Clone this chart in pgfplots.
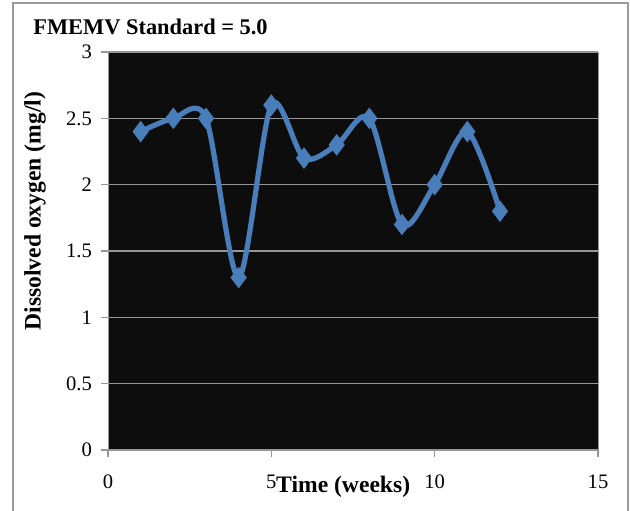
\documentclass[border=0pt]{standalone}
\usepackage{fontspec}
\setmainfont{Liberation Serif}
\usepackage{pgfplots}
\pgfplotsset{compat=1.18}
\definecolor{ser}{HTML}{4A7EBB}
\definecolor{bgk}{HTML}{0D0D0D}
\definecolor{grd}{HTML}{969696}
\definecolor{frm}{HTML}{9A9A9A}
\begin{document}
\begin{tikzpicture}[x=1pt,y=1pt]
\path[use as bounding box] (0,0) rectangle (315,255);
\draw[frm, line width=1pt] (6.5,-10) rectangle (314,253.5);
\node[anchor=base west, inner sep=0pt, font=\bfseries\fontsize{11.2}{13}\selectfont] at (16.5,237.5) {FMEMV Standard = 5.0};
\begin{axis}[
  at={(54pt,30pt)}, anchor=south west,
  scale only axis, width=245pt, height=199pt,
  xmin=0, xmax=15, ymin=0, ymax=3,
  xtick={0,5,10,15}, ytick={0,0.5,1,1.5,2,2.5,3},
  axis background/.style={fill=bgk},
  axis line style={grd},
  ymajorgrids, grid style={grd, line width=0.8pt},
  tick align=outside, major tick length=3.5pt,
  tick style={grd, line width=0.8pt},
  xtick pos=bottom, ytick pos=left,
  /pgf/number format/assume math mode=true,
  ticklabel style={font=\fontsize{10.3}{12}\selectfont},
  xticklabel style={yshift=-5.5pt},
  yticklabel style={xshift=-1pt},
  xlabel={Time (weeks)}, ylabel={Dissolved oxygen (mg/l)},
  label style={font=\bfseries\fontsize{11.8}{13}\selectfont},
  xlabel style={at={(axis description cs:0.48,-0.108)}, anchor=base},
  ylabel style={at={(axis description cs:-0.149,0.6)}, anchor=center},
]
\addplot[ser, line width=2.6pt, smooth, mark=diamond*, mark size=5pt,
  mark options={fill=ser, draw=ser, line width=0.5pt, solid}]
  coordinates {(1,2.4)(2,2.5)(3,2.5)(4,1.3)(5,2.6)(6,2.2)(7,2.3)(8,2.5)(9,1.7)(10,2.0)(11,2.4)(12,1.8)};
\end{axis}
\end{tikzpicture}
\end{document}
